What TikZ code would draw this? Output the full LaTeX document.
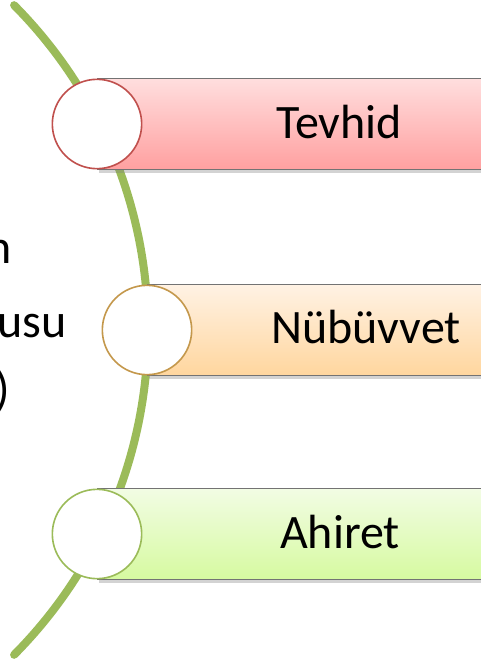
\documentclass[tikz,border=0pt]{standalone}
\usepackage{fontspec}
\setmainfont{Carlito}
\usepackage{xcolor}
\usepackage{tikz}
\usetikzlibrary{shadows,positioning,calc}

\definecolor{arcgreen}{RGB}{155,187,89}
\definecolor{ringred}{RGB}{192,80,77}
\definecolor{ringgold}{RGB}{196,152,76}
\definecolor{ringgreen}{RGB}{155,187,89}
\definecolor{tevtop}{RGB}{255,222,222}
\definecolor{tevbot}{RGB}{255,160,160}
\definecolor{nubtop}{RGB}{255,242,228}
\definecolor{nubbot}{RGB}{255,214,158}
\definecolor{ahitop}{RGB}{242,252,228}
\definecolor{ahibot}{RGB}{214,250,160}

\begin{document}
\begin{tikzpicture}[
    x=0.75pt, y=-0.75pt,
    bar/.style={rectangle, draw=black!55, line width=0.6pt, minimum width=330pt, minimum height=68pt, inner sep=0pt, anchor=west, drop shadow={opacity=0.35, shadow xshift=1.5pt, shadow yshift=-3pt}},
    ring/.style={circle, fill=white, line width=1.2pt, minimum size=67pt, inner sep=0pt},
    bartext/.style={font=\fontsize{36pt}{40pt}\selectfont, anchor=base, inner sep=0pt},
    sidetext/.style={font=\fontsize{36pt}{40pt}\selectfont, anchor=base east, inner sep=0pt}
]

\useasboundingbox (0,0) rectangle (481,660);
\clip (0,0) rectangle (481,660);

% green arc behind everything
\draw[arcgreen, line width=6pt, line cap=round] (-313,330) ++(-44.8:461) arc[start angle=-44.8, end angle=44.8, radius=461];

% left text (cut by the page edge)
\node[sidetext] (side1) at (12,263) {n};
\node[sidetext] (side2) at (67,337) {usu};
\node[sidetext] (side3) at (10,405) {)};

% bars
\node[bar, top color=tevtop, bottom color=tevbot] (tevbar) at (97,124) {};
\node[bar, top color=nubtop, bottom color=nubbot] (nubbar) at (147,330) {};
\node[bar, top color=ahitop, bottom color=ahibot] (ahibar) at (97,534) {};

% circles
\node[ring, draw=ringred] (tevring) at (97,124) {};
\node[ring, draw=ringgold] (nubring) at (147,330) {};
\node[ring, draw=ringgreen] (ahiring) at (97,534) {};

\node[bartext] (tevtext) at (339,138) {Tevhid};
\node[bartext] (nubtext) at (366,343) {Nübüvvet};
\node[bartext] (ahitext) at (340,548) {Ahiret};

\end{tikzpicture}
\end{document}
